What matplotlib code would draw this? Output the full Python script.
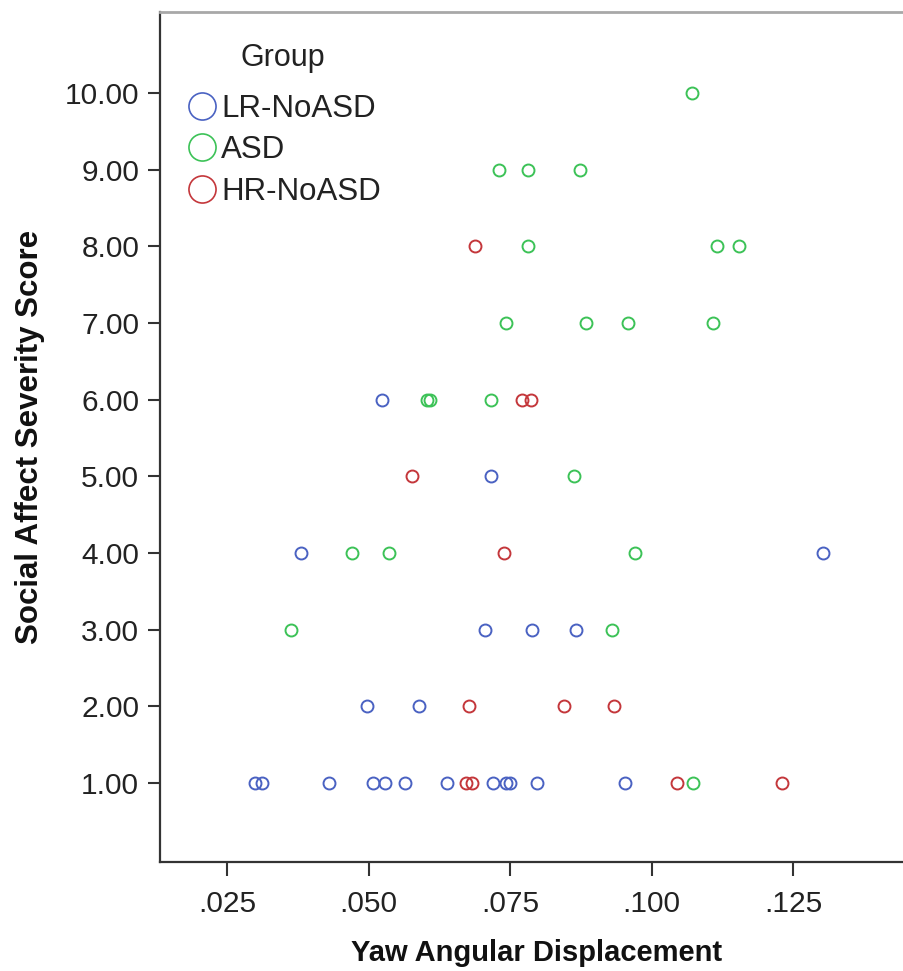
import matplotlib.pyplot as plt
from matplotlib.lines import Line2D
from matplotlib.ticker import FuncFormatter

plt.rcParams['font.family'] = ['Liberation Sans', 'DejaVu Sans']

# Yaw displacement (x) and social affect score (y) for each group
lr_x = [0.0524, 0.0716, 0.0381, 0.1303, 0.0705, 0.0788, 0.0867, 0.0497, 0.0589,
        0.0299, 0.0311, 0.0430, 0.0508, 0.0529, 0.0564, 0.0639, 0.0720, 0.0743,
        0.0750, 0.0798, 0.0953]
lr_y = [6, 5, 4, 4, 3, 3, 3, 2, 2,
        1, 1, 1, 1, 1, 1, 1, 1, 1,
        1, 1, 1]

asd_x = [0.1072, 0.0731, 0.0782, 0.0874, 0.0782, 0.1116, 0.1155, 0.0743, 0.0884,
         0.0958, 0.1109, 0.0603, 0.0609, 0.0716, 0.0863, 0.0471, 0.0536, 0.0970,
         0.0363, 0.0930, 0.1073]
asd_y = [10, 9, 9, 9, 8, 8, 8, 7, 7,
         7, 7, 6, 6, 6, 5, 4, 4, 4,
         3, 3, 1]

hr_x = [0.0688, 0.0771, 0.0787, 0.0577, 0.0739, 0.0678, 0.0845, 0.0934,
        0.0672, 0.0683, 0.1045, 0.1231]
hr_y = [8, 6, 6, 5, 4, 2, 2, 2,
        1, 1, 1, 1]

groups = ['LR-NoASD', 'ASD', 'HR-NoASD']
colors = ['#4a62c2', '#3cc257', '#c4373b']
x_ticks = [0.025, 0.050, 0.075, 0.100, 0.125]
y_ticks = [1, 2, 3, 4, 5, 6, 7, 8, 9, 10]

fig = plt.figure(figsize=(9.04, 9.71), dpi=100)
ax = fig.add_axes([160 / 904, 109 / 971, 744 / 904, 850 / 971])

for gx, gy, c in zip([lr_x, asd_x, hr_x], [lr_y, asd_y, hr_y], colors):
    ax.plot(gx, gy, 'o', ms=8.6, mfc='none', mec=c, mew=1.4, ls='none')

ax.set_xlim(0.01316, 0.1446)
ax.set_ylim(-0.03, 11.056)
ax.set_xticks(x_ticks)
ax.set_yticks(y_ticks)
ax.xaxis.set_major_formatter(FuncFormatter(lambda v, p: f'{v:.3f}'.lstrip('0')))
ax.yaxis.set_major_formatter(FuncFormatter(lambda v, p: f'{v:.2f}'))
ax.tick_params(axis='both', direction='out', width=1.5, color='#333333',
               labelsize=21.5, labelcolor='#222222')
ax.tick_params(axis='x', length=10, pad=10)
ax.tick_params(axis='y', length=9, pad=6)

ax.spines['right'].set_visible(False)
ax.spines['top'].set_color('#a8a8a8')
ax.spines['top'].set_linewidth(2)
for s in ['left', 'bottom']:
    ax.spines[s].set_color('#333333')
    ax.spines[s].set_linewidth(1.6)

fig.text(537 / 904, 1 - 953 / 971, 'Yaw Angular Displacement', ha='center', va='center',
         fontsize=21, fontweight='bold', color='#111111')
fig.text(30 / 904, 1 - 437 / 971, 'Social Affect Severity Score', ha='center', va='center',
         rotation=90, fontsize=22.5, fontweight='bold', color='#111111')

# legend: title drawn separately so the gap above the entries can be set
fig.text(283 / 904, 1 - 58 / 971, 'Group', ha='center', va='center',
         fontsize=22, color='#222222')
handles = [Line2D([], [], marker='o', ls='none', ms=19.5, mfc='none', mec=c, mew=1.2)
           for c in colors]
leg = ax.legend(handles, groups, loc='upper left',
                bbox_to_anchor=(186 / 904, 1 - 94 / 971), bbox_transform=fig.transFigure,
                frameon=False, fontsize=22.5, handlelength=1.0,
                handletextpad=0.12, labelspacing=0.36, borderpad=0, borderaxespad=0)
for t in leg.get_texts():
    t.set_color('#222222')

fig.savefig('out.png', dpi=100)
